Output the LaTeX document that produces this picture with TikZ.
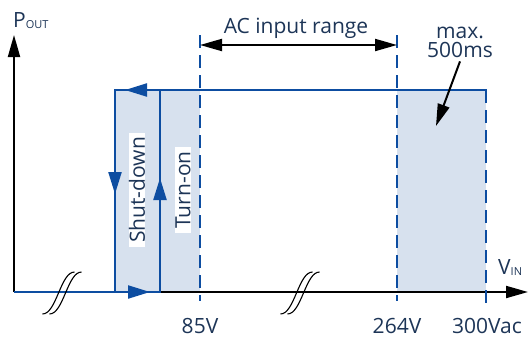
\documentclass[tikz,border=0pt]{standalone}
\usepackage{fontspec}
\setmainfont{Open Sans}
\usetikzlibrary{arrows.meta,decorations.markings}
\definecolor{lineblue}{HTML}{0D4DA1}
\definecolor{shade}{HTML}{D7E1EE}
\definecolor{ink}{HTML}{1D3557}
\tikzset{
    every picture/.style={line join=miter},
    bluetip/.tip={Triangle[length=22pt,width=13pt,color=lineblue]},
    blacktip/.tip={Triangle[length=22pt,width=12pt,color=black]},
    axisline/.style={draw=black,line width=2pt,-blacktip},
    curveline/.style={draw=lineblue,line width=2.2pt},
    limitline/.style={draw=lineblue,line width=2.4pt,dash pattern=on 13pt off 7pt},
    shadebox/.style={fill=shade,draw=none},
    rotlabel/.style={fill=white,rotate=90,inner xsep=4pt,inner ysep=0pt,text=ink},
    textlabel/.style={text=ink,inner sep=1pt},
    pointer/.style={draw=black,line width=2pt},
    breakmark/.style={draw=black,line width=1.1pt}
}
\newcommand{\subtext}[1]{{\fontsize{11}{11}\selectfont\raisebox{-1.5pt}{#1}}}
\begin{document}
\begin{tikzpicture}[x=1pt,y=-1pt,font=\fontsize{21}{19}\selectfont]
  \useasboundingbox (0,0) rectangle (530,338);
  % axis corners and voltage limits
  \coordinate (o) at (14,292);
  \coordinate (ytip) at (14,35);
  \coordinate (xtip) at (528,292);
  \coordinate (shuttop) at (115,90);
  \coordinate (shutbot) at (115,292);
  \coordinate (turntop) at (160,90);
  \coordinate (turnbot) at (160,292);
  \coordinate (endtop) at (487,90);

  % shaded bands
  \fill[shadebox] (shuttop) rectangle (200,292);
  \fill[shadebox] (397,90) rectangle (486,292);

  \node[rotlabel] (shut) at (137,190) {Shut-down};
  \node[rotlabel] (turn) at (183,190) {Turn-on};

  % axes
  \draw[axisline] (o) -- (ytip);
  \draw[axisline] (turnbot) -- (xtip);
  \node[textlabel,anchor=base west] (pout) at (12,27) {P\subtext{OUT}};
  \node[textlabel,anchor=base west] (vin) at (497,274) {V\subtext{IN}};

  % limit lines with their labels
  \node[textlabel,anchor=base] (v85) at (200,333) {85V};
  \node[textlabel,anchor=base] (v264) at (397,333) {264V};
  \node[textlabel,anchor=base] (v300) at (487,333) {300Vac};
  \draw[limitline] (200,35) -- (200,301);
  \draw[limitline] (397,35) -- (397,301);
  \draw[limitline] (486,90) -- (486,307);

  % hysteresis loop
  \draw[curveline] (turntop) -- (endtop);
  \draw[curveline,postaction={decorate},decoration={markings,
      mark=at position 136pt with {\arrow{bluetip}},
      mark=at position 260pt with {\arrow{bluetip}},
      mark=at position 383pt with {\arrow{bluetip}},
      mark=at position 497pt with {\arrow{bluetip}}}]
    (o) -- (turnbot) -- (turntop) -- (shuttop) -- (shutbot);

  % axis breaks
  \foreach \bx in {62,300} {
    \foreach \dx in {-3.5,3.5} {
      \draw[breakmark] (\bx+\dx-16,314) .. controls (\bx+\dx-2,314) and (\bx+\dx+2,272) .. (\bx+\dx+16,272);
    }
  }

  % range and delay notes
  \node[textlabel,anchor=base] (range) at (296,33) {AC input range};
  \draw[pointer,blacktip-blacktip] (200,45) -- (397,45);
  \node[textlabel,align=center,anchor=base] (delay) at (460,57) {max.\\500ms};
  \draw[pointer,-blacktip] (delay.south) ++(0,3) -- (436,126);
\end{tikzpicture}
\end{document}
